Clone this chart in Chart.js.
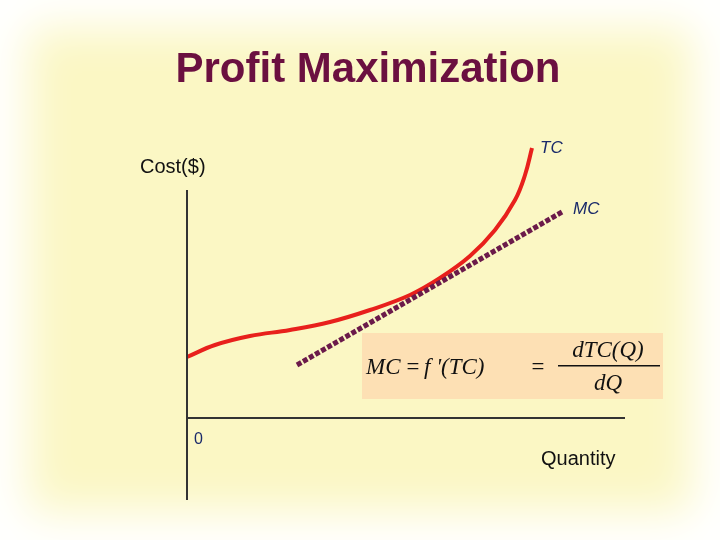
<!DOCTYPE html>
<html>
<head>
<meta charset="utf-8">
<script src="https://cdn.jsdelivr.net/npm/chart.js@4/dist/chart.umd.min.js"></script>
<style>
html, body { margin: 0; padding: 0; }
#wrap { width: 720px; height: 540px; position: relative; background: #fbf7c4; box-shadow: inset 0 0 45px 28px #ffffff; }
</style>
</head>
<body>
<div id="wrap"><canvas id="c" width="720" height="540"></canvas></div>
<script>
// coordinates are in a 720 x 540 "slide" space, y grows downward
var tcX = [187, 215, 250, 290, 330, 370, 410, 440, 470, 495, 515, 525, 532];
var tcY = [357, 345, 336, 330, 322, 310, 295, 278, 256, 230, 200, 175, 148];
var mcX = [297, 562];
var mcY = [365, 212];
var yAxisX = [187, 187], yAxisY = [190, 500];
var xAxisX = [187, 625], xAxisY = [418, 418];

function pts(xs, ys) {
	return xs.map(function(x, i) { return {x: x, y: ys[i]}; });
}

var labels = {
	id: 'labels',
	beforeDatasetsDraw: function(chart) {
		var c = chart.ctx, sx = chart.scales.x, sy = chart.scales.y;
		// formula box
		c.save();
		c.fillStyle = '#fde0b4';
		c.fillRect(sx.getPixelForValue(362), sy.getPixelForValue(333), 301, 66);
		c.restore();
	},
	afterDatasetsDraw: function(chart) {
		var c = chart.ctx;
		c.save();
		c.fillStyle = '#6b1040';
		c.font = 'bold 42px "Liberation Sans", Arial';
		c.textAlign = 'center';
		c.fillText('Profit Maximization', 368, 82);
		c.textAlign = 'left';
		c.fillStyle = '#111';
		c.font = '20px "Liberation Sans", Arial';
		c.fillText('Cost($)', 140, 173);
		c.fillText('Quantity', 541, 465);
		c.fillStyle = '#1a2a6a';
		c.font = 'italic 17px "Liberation Sans", Arial';
		c.fillText('TC', 540, 153);
		c.fillText('MC', 573, 214);
		c.font = '16px "Liberation Sans", Arial';
		c.fillText('0', 194, 444);
		c.fillStyle = '#111';
		c.font = 'italic 23px "Liberation Serif", "Times New Roman"';
		c.fillText('MC', 366, 374);
		c.fillText('=', 405, 374);
		c.fillText('f \'(TC)', 424, 374);
		c.fillText('=', 530, 374);
		c.textAlign = 'center';
		c.fillText('dTC(Q)', 608, 357);
		c.fillText('dQ', 608, 390);
		c.fillRect(558, 365, 102, 1.5);
		c.restore();
	}
};

new Chart(document.getElementById('c'), {
	type: 'scatter',
	data: {
		datasets: [
			{ data: pts(yAxisX, yAxisY), showLine: true, borderColor: '#333', borderWidth: 2, pointRadius: 0 },
			{ data: pts(xAxisX, xAxisY), showLine: true, borderColor: '#333', borderWidth: 2, pointRadius: 0 },
			{ data: pts(mcX, mcY), showLine: true, borderColor: '#6b1a4a', borderWidth: 5, borderDash: [5, 2], pointRadius: 0 },
			{ data: pts(tcX, tcY), showLine: true, borderColor: '#e8201c', borderWidth: 4, tension: 0.4, pointRadius: 0 }
		]
	},
	options: {
		responsive: false,
		animation: false,
		layout: { padding: 0 },
		plugins: { legend: { display: false }, tooltip: { enabled: false } },
		scales: {
			x: { type: 'linear', min: 0, max: 720, display: false },
			y: { type: 'linear', min: 0, max: 540, reverse: true, display: false }
		}
	},
	plugins: [labels]
});
</script>
</body>
</html>
